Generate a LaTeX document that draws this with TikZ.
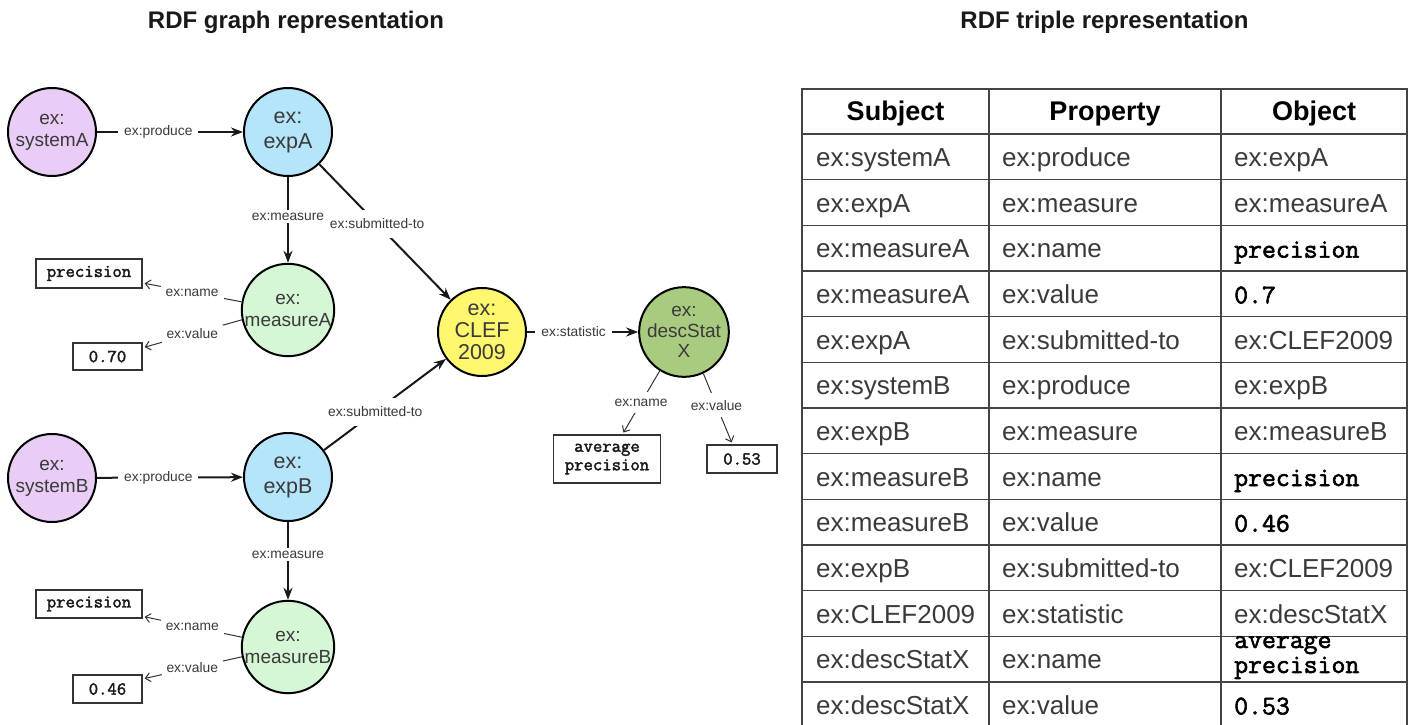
\documentclass[tikz,border=0pt]{standalone}
\usepackage{fontspec}
\setmainfont{Liberation Sans}
\newfontface\monob[FakeBold=2.2]{Latin Modern Mono}
\usetikzlibrary{arrows.meta}
\definecolor{purp}{HTML}{E9CDF7}
\definecolor{lblue}{HTML}{B5E5FB}
\definecolor{lgreen}{HTML}{D5F7D5}
\definecolor{yell}{HTML}{FFF86E}
\definecolor{olive}{HTML}{A9CB80}
\definecolor{txt}{HTML}{3A3A3A}
\definecolor{tabline}{HTML}{444444}
\newcommand{\mono}[1]{{\color{black}\monob\fontsize{27}{27}\selectfont #1}}
\begin{document}
\begin{tikzpicture}[x=1pt,y=-1pt,
  res/.style={circle,draw=black,line width=2pt,minimum size=88pt,inner sep=0pt,align=center,text=txt,font=\fontsize{19}{22}\selectfont},
  big/.style={font=\fontsize{21.5}{25}\selectfont},
  lit/.style={draw=black!80,line width=1.4pt,font=\monob\fontsize{18.2}{18.5}\selectfont,inner sep=0pt,align=center,text=black!90},
  rel/.style={line width=2pt,draw=black!90,-{Stealth[length=12pt,width=9pt]}},
  rlab/.style={fill=white,font=\fontsize{13.8}{15}\selectfont,text=txt,inner xsep=6pt,inner ysep=3pt,pos=0.42},
  litrel/.style={line width=1pt,draw=black!80,-{Straight Barb[length=5pt,width=9pt]},shorten >=2pt},
  llab/.style={fill=white,font=\fontsize{13.8}{15}\selectfont,text=txt,inner xsep=5pt,inner ysep=4pt,pos=0.5},
  ttl/.style={font=\bfseries\fontsize{24}{28}\selectfont,text=black!90,anchor=base},
  hcell/.style={font=\bfseries\fontsize{27}{30}\selectfont,text=black,anchor=base},
  cell/.style={font=\fontsize{26}{29}\selectfont,text=txt,anchor=base west,inner sep=0pt},
  tab/.style={draw=tabline,line width=1.5pt}
]
\useasboundingbox (0,0) rectangle (1414,725);

% titles
\node[ttl] (t1) at (296,29) {RDF graph representation};
\node[ttl] (t2) at (1104.5,29) {RDF triple representation};

% resources
\node[res,fill=purp] (sysA) at (52,132) {ex:\\systemA};
\node[res,big,fill=lblue] (expA) at (288,132) {ex:\\expA};
\node[res,fill=lgreen] (measA) at (288,310) {ex:\\measureA};
\node[res,big,fill=yell,font=\fontsize{21.5}{22}\selectfont] (clef) at (482,332) {ex:\\CLEF\\2009};
\node[res,fill=olive,font=\fontsize{19}{20.5}\selectfont] (desc) at (684,332) {ex:\\descStat\\X};
\node[res,fill=purp] (sysB) at (52,478) {ex:\\systemB};
\node[res,big,fill=lblue] (expB) at (288,477) {ex:\\expB};
\node[res,fill=lgreen] (measB) at (288,647) {ex:\\measureB};

% literals
\node[lit,minimum width=106pt,minimum height=29pt] (precA) at (89,273.5) {precision};
\node[lit,minimum width=69pt,minimum height=27pt] (valA) at (107.5,356.5) {0.70};
\node[lit,minimum width=106pt,minimum height=28pt] (precB) at (89,604) {precision};
\node[lit,minimum width=69pt,minimum height=28pt] (valB) at (107.5,689) {0.46};
\node[lit,minimum width=107pt,minimum height=48pt] (avg) at (607,459) {average\\precision};
\node[lit,minimum width=70pt,minimum height=28pt] (v53) at (742,459) {0.53};

% relations
\draw[rel] (expA) -- node[rlab,inner xsep=2pt,inner ysep=9pt,pos=0.44] (lsa) {ex:submitted-to} (clef);
\draw[rel] (expB) -- node[rlab,inner xsep=2pt,inner ysep=9pt] (lsb) {ex:submitted-to} (clef);
\draw[rel] (sysA) -- node[rlab] (lpa) {ex:produce} (expA);
\draw[rel] (expA) -- node[rlab,pos=0.46] (lma) {ex:measure} (measA);
\draw[rel] (sysB) -- node[rlab] (lpb) {ex:produce} (expB);
\draw[rel] (expB) -- node[rlab] (lmb) {ex:measure} (measB);
\draw[rel] (clef) -- node[rlab] (lst) {ex:statistic} (desc);

% literal relations
\draw[litrel] (measA.170) -- node[llab] (nA) {ex:name} (precA.-10);
\draw[litrel] (measA.192) -- node[llab] (vA) {ex:value} (valA.14);
\draw[litrel] (measB.168) -- node[llab] (nB) {ex:name} (precB.-13);
\draw[litrel] (measB.192) -- node[llab] (vB) {ex:value} (valB.16);
\draw[litrel] (desc.-122) -- node[llab,inner ysep=7pt] (nD) {ex:name} (avg.58);
\draw[litrel] (desc.-65) -- node[llab,inner ysep=7pt,pos=0.45] (vD) {ex:value} (v53.123);

% table
\draw[tab] (802,725) -- (802,89) -- (1407,89) -- (1407,725);
\draw[tab] (989,89) -- (989,725);
\draw[tab] (1221,89) -- (1221,725);
\draw[tab] (802,134) -- (1407,134);
\foreach \i in {1,...,12} {
  \draw[tab] (802,134+\i*45.67) -- (1407,134+\i*45.67);
}
\node[hcell] (hS) at (895.5,121) {Subject};
\node[hcell] (hP) at (1105,121) {Property};
\node[hcell] (hO) at (1314,121) {Object};

\foreach \s/\p/\o [count=\i] in {
  ex:systemA/ex:produce/ex:expA,
  ex:expA/ex:measure/ex:measureA,
  ex:measureA/ex:name/\mono{precision},
  ex:measureA/ex:value/\mono{0.7},
  ex:expA/ex:submitted-to/ex:CLEF2009,
  ex:systemB/ex:produce/ex:expB,
  ex:expB/ex:measure/ex:measureB,
  ex:measureB/ex:name/\mono{precision},
  ex:measureB/ex:value/\mono{0.46},
  ex:expB/ex:submitted-to/ex:CLEF2009,
  ex:CLEF2009/ex:statistic/ex:descStatX,
  ex:descStatX/ex:name/{},
  ex:descStatX/ex:value/\mono{0.53}} {
  \node[cell] (s\i) at (816,134+\i*45.67-22.83+9.5) {\s};
  \node[cell] (p\i) at (1002,134+\i*45.67-22.83+9.5) {\p};
  \node[cell] (o\i) at (1234,134+\i*45.67-22.83+9.5) {\o};
}
\node[anchor=west,inner sep=0pt,align=left,text=black,font=\monob\fontsize{27}{25}\selectfont] (o12b) at (1234,657.5) {average\\precision};
\end{tikzpicture}
\end{document}
